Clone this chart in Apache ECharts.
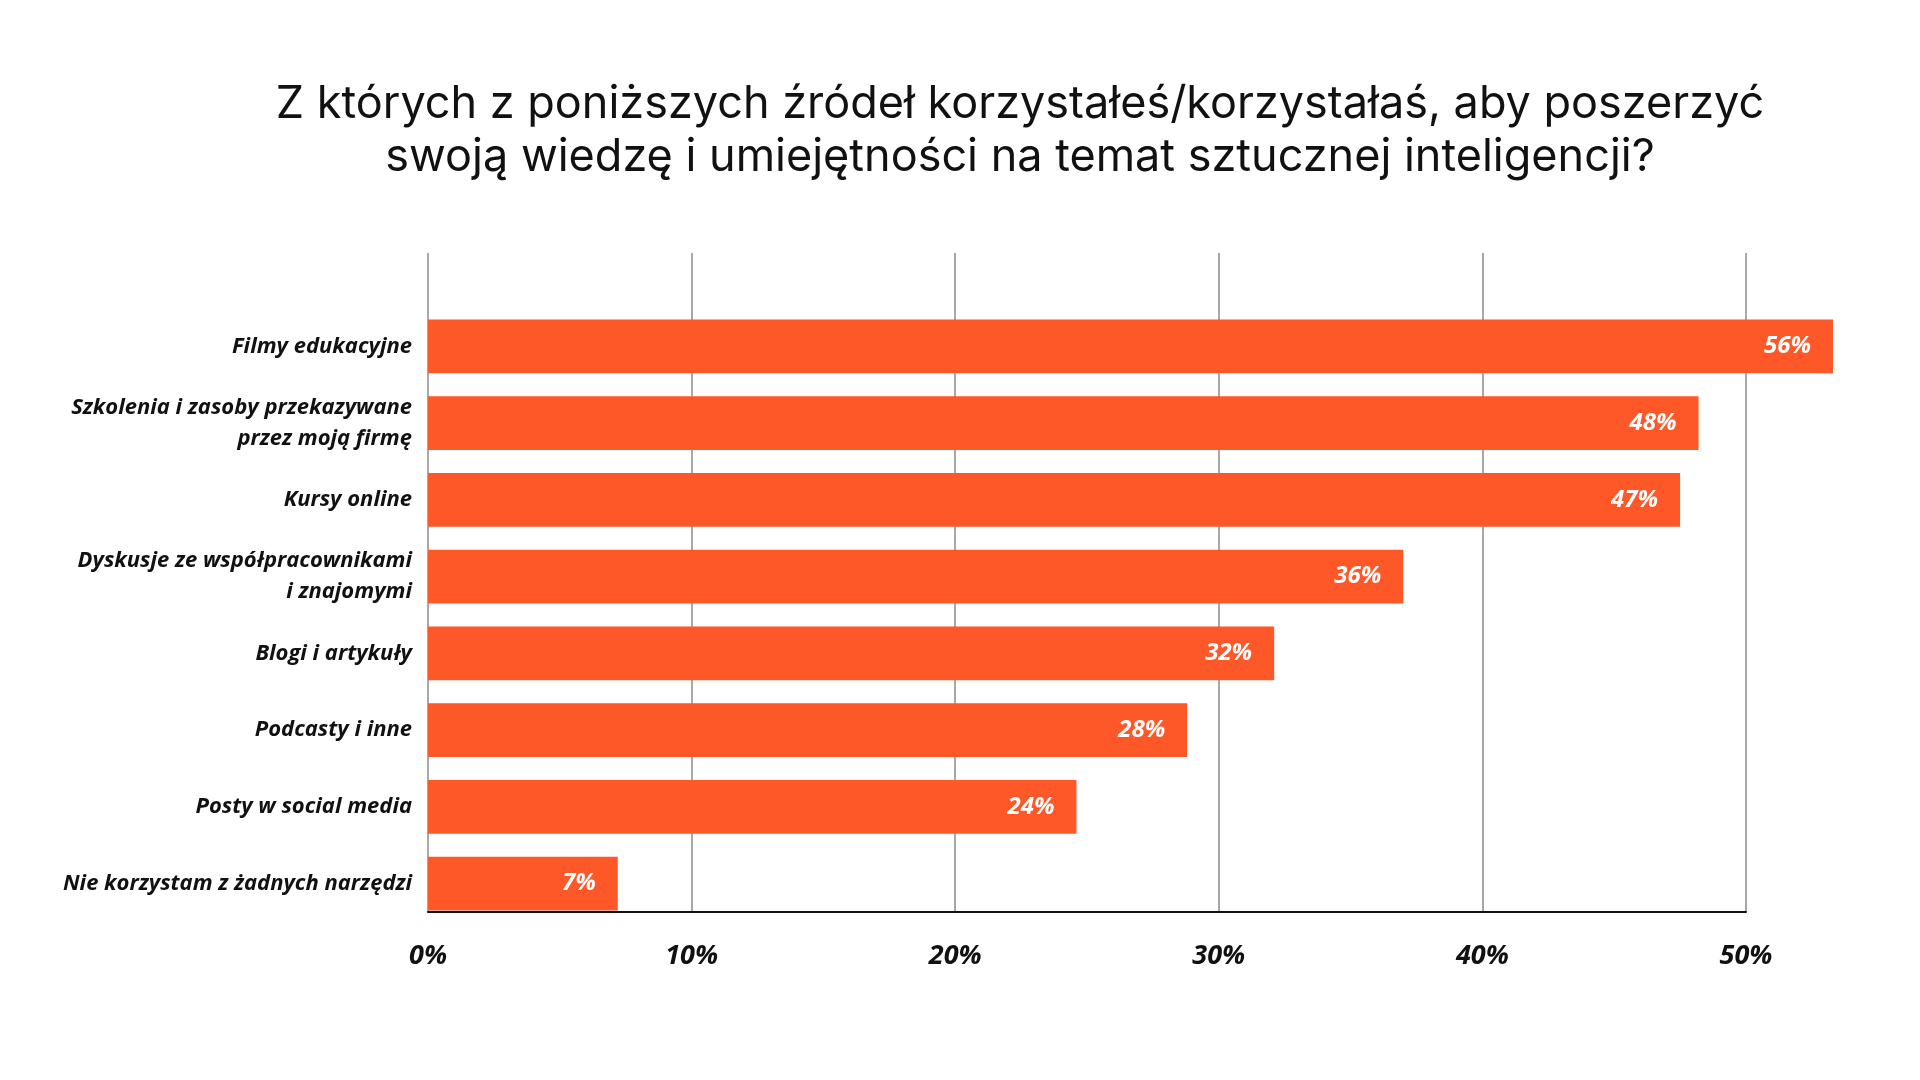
<!DOCTYPE html>
<html>
<head>
<meta charset="utf-8">
<script src="https://cdn.jsdelivr.net/npm/echarts@6/dist/echarts.min.js"></script>
<style>
  html, body { margin: 0; padding: 0; background: #fff; }
  #chart { width: 1920px; height: 1080px; }
</style>
</head>
<body>
<div id="chart"></div>
<script>
// dane z wykresu
const categories = [
  'Filmy edukacyjne',
  'Szkolenia i zasoby przekazywane\nprzez moją firmę',
  'Kursy online',
  'Dyskusje ze współpracownikami\ni znajomymi',
  'Blogi i artykuły',
  'Podcasty i inne',
  'Posty w social media',
  'Nie korzystam z żadnych narzędzi'
];
// długości słupków
const barValues = [53.3, 48.2, 47.5, 37.0, 32.1, 28.8, 24.6, 7.2];
// wartości wypisane na słupkach
const printedValues = [56, 48, 47, 36, 32, 28, 24, 7];
const xTicks = [0, 10, 20, 30, 40, 50];

const titleText = 'Z których z poniższych źródeł korzystałeś/korzystałaś, aby poszerzyć\nswoją wiedzę i umiejętności na temat sztucznej inteligencji?';

const barColor = '#FE5728';
const labelFont = '"Open Sans", Lato, sans-serif';

const chart = echarts.init(document.getElementById('chart'));

const option = {
  backgroundColor: '#ffffff',
  animation: false,
  // tytuł jako tekst graficzny, wyśrodkowany ok. x=1020
  graphic: [
    {
      type: 'text',
      x: 1020,
      y: 78,
      style: {
        text: titleText,
        textAlign: 'center',
        textVerticalAlign: 'top',
        fontFamily: 'Inter, "Noto Sans", sans-serif',
        fontWeight: 400,
        fontSize: 45,
        lineHeight: 53,
        fill: '#111111'
      }
    }
  ],
  grid: [
    // siatka i oś X
    { left: 428, right: 174, top: 253, bottom: 168 },
    // słupki
    { left: 428, right: 174, top: 308, height: 614 }
  ],
  xAxis: [
    {
      gridIndex: 0,
      type: 'value',
      min: xTicks[0],
      max: xTicks[xTicks.length - 1],
      interval: 10,
      axisLine: { show: true, lineStyle: { color: '#111111', width: 2 } },
      axisTick: { show: false },
      splitLine: { show: true, lineStyle: { color: '#a8a8a8', width: 2 } },
      axisLabel: {
        margin: 31,
        formatter: '{value}%',
        fontFamily: labelFont,
        fontStyle: 'italic',
        fontWeight: 'bold',
        fontSize: 27,
        color: '#111111'
      }
    },
    {
      gridIndex: 1,
      type: 'value',
      min: 0,
      max: 50,
      show: false
    }
  ],
  yAxis: [
    { gridIndex: 0, type: 'value', show: false },
    {
      gridIndex: 1,
      type: 'category',
      inverse: true,
      data: categories,
      axisLine: { show: false },
      axisTick: { show: false },
      splitLine: { show: false },
      axisLabel: {
        margin: 16,
        align: 'right',
        fontFamily: labelFont,
        fontStyle: 'italic',
        fontWeight: 'bold',
        fontSize: 22,
        lineHeight: 31,
        color: '#111111'
      }
    }
  ],
  series: [
    {
      type: 'bar',
      xAxisIndex: 1,
      yAxisIndex: 1,
      data: barValues,
      clip: false,
      barCategoryGap: '30%',
      itemStyle: { color: barColor },
      label: {
        show: true,
        position: 'insideRight',
        distance: 22,
        formatter: (p) => printedValues[p.dataIndex] + '%',
        fontFamily: labelFont,
        fontStyle: 'italic',
        fontWeight: 'bold',
        fontSize: 24,
        color: '#ffffff'
      }
    }
  ]
};

chart.setOption(option);
</script>
</body>
</html>
